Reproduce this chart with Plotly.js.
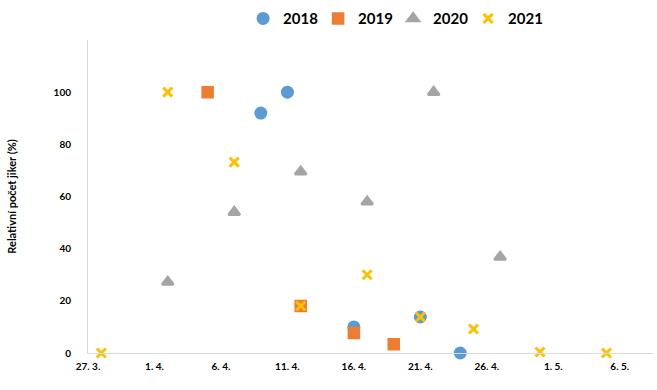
<!DOCTYPE html>
<html>
<head>
<meta charset="utf-8">
<script src="https://cdn.plot.ly/plotly-3.0.1.min.js"></script>
<style>html,body{margin:0;padding:0;background:#fff;}#chart{width:657px;height:390px;}</style>
</head>
<body>
<div id="chart"></div>
<script>
// Dates (day.month) plotted on a common year
const dates2018 = ["2021-04-09", "2021-04-11", "2021-04-16", "2021-04-21", "2021-04-24"];
const values2018 = [92, 100, 10, 13.8, 0];

const dates2019 = ["2021-04-05", "2021-04-12", "2021-04-16", "2021-04-19"];
const values2019 = [100, 18, 7.7, 3.4];

const dates2020 = ["2021-04-02", "2021-04-07", "2021-04-12", "2021-04-17", "2021-04-22", "2021-04-27"];
const values2020 = [27.2, 54, 69.5, 58, 100, 36.8];

const dates2021 = ["2021-03-28", "2021-04-02", "2021-04-07", "2021-04-12", "2021-04-17", "2021-04-21", "2021-04-25", "2021-04-30", "2021-05-05"];
const values2021 = [0, 100, 73.2, 18, 30, 13.8, 9.2, 0.4, 0];

const seriesNames = ["2018", "2019", "2020", "2021"];
const xTickVals = ["2021-03-27", "2021-04-01", "2021-04-06", "2021-04-11", "2021-04-16", "2021-04-21", "2021-04-26", "2021-05-01", "2021-05-06"];
const xTickText = ["27. 3.", "1. 4.", "6. 4.", "11. 4.", "16. 4.", "21. 4.", "26. 4.", "1. 5.", "6. 5."];
const yTickVals = [0, 20, 40, 60, 80, 100];
const yTickText = ["0", "20", "40", "60", "80", "100"];

const FONT = "Lato, 'Open Sans', 'DejaVu Sans', sans-serif";

const traces = [
  {x: dates2018, y: values2018, name: seriesNames[0], type: "scatter", mode: "markers", cliponaxis: false,
   marker: {symbol: "circle", size: 13, color: "#5B9BD5"}},
  {x: dates2019, y: values2019, name: seriesNames[1], type: "scatter", mode: "markers", cliponaxis: false,
   marker: {symbol: "square", size: 10, color: "#ED7D31", line: {color: "#ED7D31", width: 2.5}}},
  {x: dates2020, y: values2020, name: seriesNames[2], type: "scatter", mode: "markers", cliponaxis: false,
   marker: {symbol: "triangle-up", size: 10, color: "#A5A5A5", line: {color: "#A5A5A5", width: 2.5}}},
  {x: dates2021, y: values2021, name: seriesNames[3], type: "scatter", mode: "markers", cliponaxis: false,
   marker: {symbol: "x-thin", size: 9, color: "#FFC000", line: {color: "#FFC000", width: 3}}}
];

const layout = {
  width: 657, height: 390,
  margin: {l: 88, r: 4, t: 40, b: 37, autoexpand: false},
  paper_bgcolor: "#fff", plot_bgcolor: "#fff",
  font: {family: FONT, color: "#000"},
  showlegend: true,
  legend: {
    orientation: "h", x: 0.54, xanchor: "center", y: 1.121, yanchor: "top",
    font: {family: FONT, size: 15, weight: "bold", color: "#000"},
    entrywidth: 30, entrywidthmode: "pixels",
    itemclick: false, traceorder: "normal"
  },
  xaxis: {
    type: "date", range: ["2021-03-27", "2021-05-08 12:00"],
    tickvals: xTickVals, ticktext: xTickText,
    tickfont: {family: FONT, size: 10, weight: "bold", color: "#000"},
    showgrid: false, zeroline: false,
    showline: true, linecolor: "#D9D9D9", linewidth: 1,
    ticks: "outside", ticklen: 4, tickcolor: "rgba(0,0,0,0)"
  },
  yaxis: {
    range: [0, 120],
    tickvals: yTickVals, ticktext: yTickText,
    tickfont: {family: FONT, size: 10, weight: "bold", color: "#000"},
    showgrid: false, zeroline: false,
    showline: true, linecolor: "#D9D9D9", linewidth: 1,
    ticks: "outside", ticklen: 14, tickcolor: "rgba(0,0,0,0)",
    title: {text: "Relativní počet jiker (%)", font: {family: FONT, size: 11, weight: "bold", color: "#000"}, standoff: 34}
  }
};

Plotly.newPlot("chart", traces, layout, {displayModeBar: false, staticPlot: true});
</script>
</body>
</html>
